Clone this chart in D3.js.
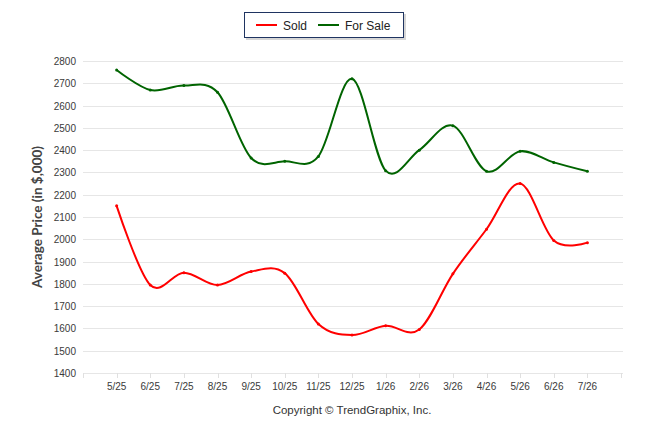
<!DOCTYPE html>
<html>
<head>
<meta charset="utf-8">
<script src="https://cdn.jsdelivr.net/npm/d3@7"></script>
<style>
  body { margin: 0; background: #fff; }
  svg { display: block; font-family: "Liberation Sans", Arial, sans-serif; }
</style>
</head>
<body>
<svg id="chart" width="646" height="434"></svg>
<script>
// chart data
var months = ["5/25", "6/25", "7/25", "8/25", "9/25", "10/25", "11/25", "12/25",
              "1/26", "2/26", "3/26", "4/26", "5/26", "6/26", "7/26"];
var sold    = [2150, 1795, 1850, 1795, 1855, 1848, 1620, 1570, 1612, 1595, 1845, 2045, 2250, 1995, 1985];
var forSale = [2760, 2670, 2690, 2660, 2365, 2350, 2372, 2720, 2308, 2400, 2510, 2305, 2395, 2345, 2305];
var yTicks  = [1400, 1500, 1600, 1700, 1800, 1900, 2000, 2100, 2200, 2300, 2400, 2500, 2600, 2700, 2800];

var series = [
  { name: "Sold", values: sold, color: "#ff0000" },
  { name: "For Sale", values: forSale, color: "#006400" }
];

var svg = d3.select("#chart");

var plot = { left: 83, right: 621, top: 61, bottom: 373 };

// category index -> x (one empty slot padding on each side)
var xScale = d3.scaleLinear()
    .domain([-1, months.length])
    .range([plot.left, plot.right]);

var yScale = d3.scaleLinear()
    .domain([1400, 2800])
    .range([plot.bottom, plot.top]);

// -------- gridlines --------
svg.append("g")
    .selectAll("line")
    .data(yTicks)
    .join("line")
      .attr("x1", plot.left)
      .attr("x2", plot.right + 2)
      .attr("y1", function(d) { return Math.round(yScale(d)) + 0.5; })
      .attr("y2", function(d) { return Math.round(yScale(d)) + 0.5; })
      .attr("stroke", "#e6e6e6")
      .attr("stroke-width", 1);

// y tick labels
svg.append("g")
    .selectAll("text")
    .data(yTicks)
    .join("text")
      .attr("x", 76)
      .attr("y", function(d) { return yScale(d) + 4; })
      .attr("text-anchor", "end")
      .attr("font-size", 10)
      .attr("fill", "#3a3a3a")
      .text(function(d) { return d; });

// x axis ticks
var tickIdx = d3.range(-1, months.length + 1);
svg.append("g")
    .selectAll("line")
    .data(tickIdx)
    .join("line")
      .attr("x1", function(d) { return Math.round(xScale(d)) + 0.5; })
      .attr("x2", function(d) { return Math.round(xScale(d)) + 0.5; })
      .attr("y1", plot.bottom)
      .attr("y2", plot.bottom + 5)
      .attr("stroke", "#e0e0e0");

// x labels
svg.append("g")
    .selectAll("text")
    .data(months)
    .join("text")
      .attr("x", function(d, i) { return xScale(i); })
      .attr("y", 390)
      .attr("text-anchor", "middle")
      .attr("font-size", 10)
      .attr("fill", "#3a3a3a")
      .text(function(d) { return d; });

// y axis title
svg.append("text")
    .attr("transform", "translate(42,217) rotate(-90)")
    .attr("text-anchor", "middle")
    .attr("font-family", "Lato, 'Liberation Sans', sans-serif")
    .attr("font-size", 13.5)
    .attr("font-weight", "bold")
    .attr("fill", "#444")
    .text("Average Price (in $,000)");

// -------- lines --------
var line = d3.line()
    .x(function(d, i) { return xScale(i); })
    .y(function(d) { return yScale(d); })
    .curve(d3.curveCardinal.tension(0));

series.forEach(function(s) {
  svg.append("path")
      .datum(s.values)
      .attr("fill", "none")
      .attr("stroke", s.color)
      .attr("stroke-width", 2)
      .attr("d", line);

  svg.append("g")
      .selectAll("circle")
      .data(s.values)
      .join("circle")
        .attr("cx", function(d, i) { return xScale(i); })
        .attr("cy", function(d) { return yScale(d); })
        .attr("r", 1.5)
        .attr("fill", s.color);
});

// -------- legend --------
var legend = svg.append("g").attr("transform", "translate(244,12)");
legend.append("rect")
    .attr("x", 2).attr("y", 2)
    .attr("width", 160).attr("height", 26)
    .attr("fill", "#bbb").attr("opacity", 0.6);
legend.append("rect")
    .attr("x", 0.5).attr("y", 0.5)
    .attr("width", 159).attr("height", 25)
    .attr("fill", "#fff")
    .attr("stroke", "#1f3461")
    .attr("stroke-width", 1);

var legendPos = [12, 74];
series.forEach(function(s, i) {
  var g = legend.append("g").attr("transform", "translate(" + legendPos[i] + ",0)");
  g.append("line")
      .attr("x1", 0).attr("x2", 21)
      .attr("y1", 13).attr("y2", 13)
      .attr("stroke", s.color)
      .attr("stroke-width", 2);
  g.append("text")
      .attr("x", 27)
      .attr("y", 17.5)
      .attr("font-size", 12)
      .attr("fill", "#222")
      .text(s.name);
});

// credit
svg.append("text")
    .attr("x", 352)
    .attr("y", 414)
    .attr("text-anchor", "middle")
    .attr("font-size", 11.5)
    .attr("fill", "#333")
    .text("Copyright \u00a9 TrendGraphix, Inc.");
</script>
</body>
</html>
